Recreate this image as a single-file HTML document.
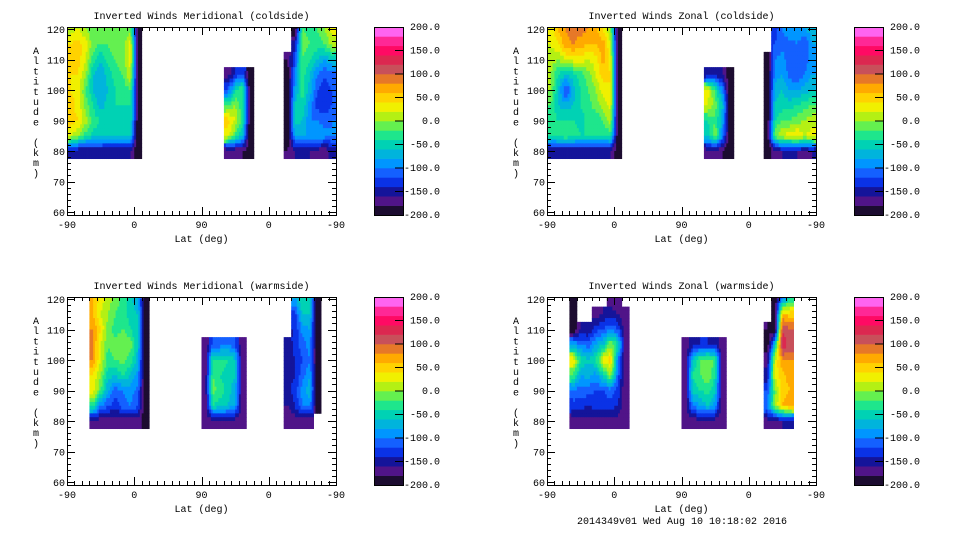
<!DOCTYPE html>
<html><head><meta charset="utf-8"><style>
body{margin:0;background:#fff;width:960px;height:540px;overflow:hidden}
svg text{font-family:"Liberation Mono",monospace;font-size:10px;fill:#000}
</style></head><body>
<svg id="chart" width="960" height="540" xmlns="http://www.w3.org/2000/svg"></svg>
<script>
const _ = null;
// altitudes of grid rows (km), top to bottom
const altRows = [120,115,110,105,100,95,90,85,80];
// colour scale levels
const levels = [-200,-180,-160,-140,-120,-100,-80,-60,-40,-20,0,20,40,60,80,100,120,140,160,180];
const levelColors = ["#1c0c30","#501488","#14149a","#0a32e6","#1460ff","#0096ff","#00b4dc","#00d2b4","#1ee68c","#64f050","#b4f014","#f0f000","#ffd200","#ffaa00","#e67828","#c8505a","#dc2850","#ff0a64","#ff2896","#ff64f0"];
const cbarLabels = ["200.0","150.0","100.0","50.0","0.0","-50.0","-100.0","-150.0","-200.0"];
const cbarValues = [200,150,100,50,0,-50,-100,-150,-200];
const xTickLabels = ["-90","0","90","0","-90"];
const xTickTrack = [0,90,180,270,360];
const yTickLabels = ["120","110","100","90","80","70","60"];
const yTickValues = [120,110,100,90,80,70,60];

// Panel 1: meridional coldside; columns are 10-deg track bins
const p1Cols = [0,1,2,3,4,5,6,7,8,9, 21,22,23,24, 29,30,31,32,33,34,35];
const p1Vals = [
[10,40,50,40,40,50,50,20,-150],[20,50,50,40,30,30,40,0,-160],[0,30,20,0,-20,-10,10,-30,-160],
[-20,-10,-30,-60,-60,-40,-30,-50,-160],[-20,-20,-60,-80,-80,-70,-40,-50,-160],[-10,-20,-30,-50,-60,-50,-50,-60,-160],
[-10,-10,-20,-30,-40,-40,-50,-60,-160],[-20,-10,-10,-20,-30,-40,-50,-60,-160],[-10,30,30,20,-20,-40,-40,-60,-160],
[-200,-200,-200,-200,-200,-200,-200,-200,-200],
[_,_,_,-170,-120,-20,50,30,-180],[_,_,_,-140,-40,0,20,-20,-180],[_,_,_,-120,-20,-40,-30,-60,-180],[_,_,_,-200,-200,-200,-200,-200,-200],
[_,_,-180,-200,-200,-200,-200,-200,-180],[-200,-150,-120,-100,-80,-60,-50,-80,-160],[-20,-10,-20,-30,-30,-40,-60,-80,-160],
[-30,-20,-40,-60,-70,-90,-100,-80,-160],[-20,-30,-60,-100,-120,-130,-100,-80,-170],[0,-20,-80,-120,-130,-140,-110,-90,-180],
[30,10,-60,-110,-120,-120,-100,-100,-150]];

// Panel 2: zonal coldside
const p2Cols = [0,1,2,3,4,5,6,7,8,9, 21,22,23,24, 29,30,31,32,33,34,35];
const p2Vals = [
[20,20,10,0,0,-20,-30,-40,-160],[60,40,0,-40,-60,-60,-40,-30,-160],[80,70,20,-60,-130,-70,-40,-20,-160],
[90,80,30,-50,-70,-60,-40,-30,-160],[90,70,30,-30,-40,-40,-50,-40,-160],[80,60,20,-10,-20,-30,-30,-40,-160],
[70,60,30,20,0,-10,-40,-40,-160],[40,70,70,50,30,10,-20,-40,-160],[0,20,30,40,40,30,10,-30,-160],
[-200,-200,-200,-200,-200,-200,-200,-200,-200],
[_,_,_,-160,30,20,-40,-60,-170],[_,_,_,-150,-20,-10,-20,0,-170],[_,_,_,-160,-100,-60,-80,-100,-180],[_,_,_,-200,-200,-200,-200,-200,-200],
[_,_,-200,-200,-200,-200,-200,-200,-200],[-130,-120,-100,-90,-70,-60,-40,-10,-170],[-100,-110,-90,-80,-60,-50,-20,20,-160],
[-80,-110,-120,-110,-80,-50,-20,30,-160],[-90,-100,-110,-120,-80,-40,-10,40,-160],[-80,-120,-110,-100,-70,-30,0,20,-170],
[-70,-80,-90,-80,-60,-20,10,30,-160]];

// Panel 3: meridional warmside
const p3Cols = [3,4,5,6,7,8,9,10, 18,19,20,21,22,23, 29,30,31,32,33];
const p3Vals = [
[60,60,80,80,80,40,30,-30,-170],[30,20,40,20,20,0,-20,-100,-170],[10,0,-10,-20,-30,-50,-80,-120,-170],
[-10,-20,-30,-10,-20,-60,-110,-130,-170],[-30,-30,-20,0,-10,-40,-100,-110,-170],[-50,-50,-40,-10,-30,-60,-90,-100,-170],
[-80,-60,-60,-60,-70,-90,-110,-120,-170],[-200,-200,-200,-200,-200,-200,-200,-200,-200],
[_,_,_,-180,-180,-180,-180,-180,-180],[_,_,_,-120,-30,-20,-10,-40,-170],[_,_,_,-110,-30,-40,-30,-50,-170],
[_,_,_,-100,-40,-50,-50,-60,-170],[_,_,_,-120,-60,-60,-70,-80,-170],[_,_,_,-180,-180,-180,-180,-180,-180],
[_,_,_,-160,-150,-150,-150,-160,-180],[-80,-130,-140,-130,-140,-140,-130,-140,-170],[-40,-60,-90,-110,-120,-110,-90,-100,-170],
[-50,-60,-80,-90,-100,-80,-70,-90,-170],[-200,-200,-200,-200,-200,-200,-200,-200,_]];

// Panel 4: zonal warmside
const p4Cols = [3,4,5,6,7,8,9,10, 18,19,20,21,22,23, 29,30,31,32];
const p4Vals = [
[-200,-200,-200,-80,40,-20,-100,-130,-170],[_,_,-160,-100,-40,-80,-110,-130,-170],[_,_,-160,-110,-60,-70,-110,-140,-170],
[_,-170,-130,-80,-40,-90,-120,-130,-170],[_,-160,-120,-60,30,-50,-120,-130,-170],[-170,-150,-100,0,50,0,-110,-130,-170],
[-180,-160,-120,-40,-100,-110,-130,-140,-170],[_,-180,-180,-180,-180,-180,-180,-180,-180],
[_,_,_,-180,-180,-180,-180,-180,-180],[_,_,_,-150,-60,-40,-50,-100,-170],[_,_,_,-140,-20,-20,-40,-80,-170],
[_,_,_,-140,-10,0,-30,-60,-170],[_,_,_,-150,-20,-40,-60,-90,-170],[_,_,_,-180,-180,-180,-180,-180,-180],
[_,_,-180,-200,-170,-150,-120,-100,-170],[-200,-200,-200,-60,20,30,-10,0,-170],[-100,60,120,140,80,50,50,60,-160],
[-40,50,100,110,80,70,60,70,-150]];

const panels = [
 {name:"meridional-coldside",title:"Inverted Winds Meridional (coldside)",x0:67,y0:27,cols:p1Cols,vals:p1Vals},
 {name:"zonal-coldside",title:"Inverted Winds Zonal (coldside)",x0:547,y0:27,cols:p2Cols,vals:p2Vals},
 {name:"meridional-warmside",title:"Inverted Winds Meridional (warmside)",x0:67,y0:297,cols:p3Cols,vals:p3Vals},
 {name:"zonal-warmside",title:"Inverted Winds Zonal (warmside)",x0:547,y0:297,cols:p4Cols,vals:p4Vals}
];

const NS="http://www.w3.org/2000/svg";
const svg=document.getElementById('chart');
const W=269,H=188,SUB=4;
function mk(tag,attrs,parent){const e=document.createElementNS(NS,tag);for(const k in attrs)e.setAttribute(k,attrs[k]);(parent||svg).appendChild(e);return e;}
function colorOf(v){let i=Math.floor((v+200)/20);if(i<0)i=0;if(i>19)i=19;return levelColors[i];}

panels.forEach((p,pi)=>{
  const g=mk('g',{});
  
  
  const xs=t=>p.x0+t*W/360;
  const ys=a=>p.y0+2+(120-a)*(H-5)/60;
  // full grid
  const grid=[];for(let c=0;c<36;c++)grid.push(new Array(altRows.length).fill(null));
  p.cols.forEach((c,ci)=>{p.vals[ci].forEach((v,ri)=>{grid[c][ri]=v;});});
  const at=(c,r,own)=>{if(c<0||c>=36||r<0||r>=altRows.length)return own;const v=grid[c][r];return v===null?own:v;};
  const cid='clip'+pi;
  const cp=mk('clipPath',{id:cid},g);
  mk('rect',{x:p.x0,y:p.y0,width:W,height:H},cp);
  const cells=mk('g',{'clip-path':'url(#'+cid+')'},g);
  
  
  for(let c=0;c<36;c++){
    for(let r=0;r<altRows.length;r++){
      const own=grid[c][r];
      if(own===null)continue;
      for(let sx=0;sx<SUB;sx++){
        for(let sy=0;sy<SUB;sy++){
          const fx=(sx+0.5)/SUB-0.5, fy=(sy+0.5)/SUB-0.5;
          const dc=fx<0?-1:1, dr=fy<0?-1:1;
          const ax=Math.abs(fx), ay=Math.abs(fy);
          const v00=own, v10=at(c+dc,r,own), v01=at(c,r+dr,own), v11=at(c+dc,r+dr,own);
          const v=v00*(1-ax)*(1-ay)+v10*ax*(1-ay)+v01*(1-ax)*ay+v11*ax*ay;
          const t1=c*10+sx*10/SUB, t2=t1+10/SUB;
          const a1=altRows[r]+2.5-sy*5/SUB, a2=a1-5/SUB;
          const x1=xs(t1),x2=xs(t2),y1=ys(a1),y2=ys(a2);
          const rc=mk('rect',{x:x1.toFixed(2),y:y1.toFixed(2),width:(x2-x1+0.4).toFixed(2),height:(y2-y1+0.4).toFixed(2),fill:colorOf(v)},cells);
          
          
        }
      }
    }
  }
  const frame=mk('rect',{x:p.x0+0.5,y:p.y0+0.5,width:W,height:H,fill:'none',stroke:'#000','stroke-width':1},g);
  
  
  for(let t=0;t<=360;t+=10){
    const major=t%90===0, L=major?8:4, x=Math.round(xs(t))+0.5;
    mk('line',{x1:x,x2:x,y1:p.y0+H,y2:p.y0+H-L,stroke:'#000'},g);
    mk('line',{x1:x,x2:x,y1:p.y0,y2:p.y0+L,stroke:'#000'},g);
  }
  xTickTrack.forEach((t,i)=>{
    const tx=mk('text',{x:xs(t),y:p.y0+H+13,'text-anchor':'middle'},g);
    tx.textContent=xTickLabels[i];
    
    
  });
  for(let a=60;a<=120;a+=2){
    const major=a%10===0, L=major?8:4, y=Math.round(ys(a))+0.5;
    mk('line',{x1:p.x0,x2:p.x0+L,y1:y,y2:y,stroke:'#000'},g);
    mk('line',{x1:p.x0+W,x2:p.x0+W-L,y1:y,y2:y,stroke:'#000'},g);
  }
  yTickValues.forEach((a,i)=>{
    const tx=mk('text',{x:p.x0-2,y:ys(a)+4,'text-anchor':'end'},g);
    tx.textContent=yTickLabels[i];
    
    
  });
  const tt=mk('text',{x:p.x0+W/2,y:p.y0-8,'text-anchor':'middle'},g);
  tt.textContent=p.title;
  
  
  const xt=mk('text',{x:p.x0+W/2,y:p.y0+H+27,'text-anchor':'middle'},g);
  xt.textContent='Lat (deg)';
  
  
  const yt=mk('text',{x:p.x0-31,y:p.y0+27,'text-anchor':'middle'},g);
  
  
  'Altitude (km)'.split('').forEach((ch,i)=>{
    const s=mk('tspan',{x:p.x0-31,y:p.y0+27+i*10.2},yt);
    s.textContent=ch===' '?'\u00a0':ch;
  });
  const cb=mk('g',{});
  
  
  const cx=p.x0+307, cw=29;
  const cbY=v=>p.y0+H-(v+200)*H/400;
  levels.forEach((lv,i)=>{
    const r=mk('rect',{x:cx,y:cbY(lv+20),width:cw,height:H/20+0.3,fill:levelColors[i]},cb);
    
    
  });
  mk('rect',{x:cx+0.5,y:p.y0+0.5,width:cw,height:H,fill:'none',stroke:'#000'},cb);
  cbarValues.forEach((v,i)=>{
    const y=cbY(v);
    if(i>0&&i<cbarValues.length-1)mk('line',{x1:cx+cw-8,x2:cx+cw,y1:y,y2:y,stroke:'#000'},cb);
    const tx=mk('text',{x:cx+66,y:y+3,'text-anchor':'end'},cb);
    tx.textContent=cbarLabels[i];
    
    
  });
});
const ft=mk('text',{x:577,y:524});
ft.textContent='2014349v01 Wed Aug 10 10:18:02 2016';


</script>
</body></html>
